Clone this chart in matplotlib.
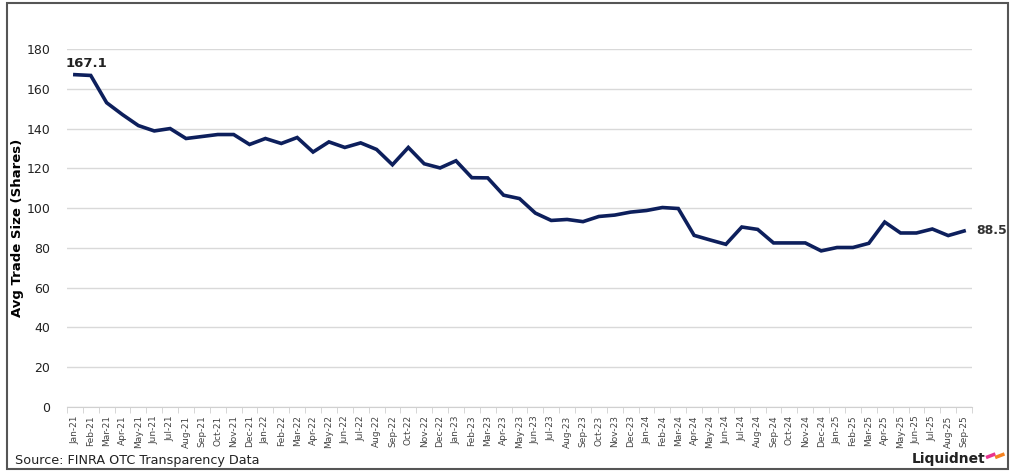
import matplotlib
matplotlib.use('Agg')
import matplotlib.pyplot as plt
from matplotlib.patches import Rectangle
from matplotlib.lines import Line2D

# monthly average trade size, Jan-21 .. Sep-25
months = ['Jan', 'Feb', 'Mar', 'Apr', 'May', 'Jun', 'Jul', 'Aug', 'Sep', 'Oct', 'Nov', 'Dec']
labels = [m + '-' + str(y) for y in range(21, 26) for m in months][:57]

avg_size = [167.1, 166.7, 153.0, 147.0, 141.5, 138.8, 140.0, 135.0, 136.0, 137.0, 137.0, 132.0,
            135.0, 132.5, 135.5, 128.2, 133.3, 130.5, 132.8, 129.5, 121.8, 130.5, 122.3, 120.2,
            123.8, 115.3, 115.2, 106.5, 104.8, 97.5, 93.8, 94.3, 93.2, 95.8, 96.5, 98.0,
            98.8, 100.3, 99.8, 86.3, 84.0, 81.8, 90.5, 89.3, 82.5, 82.5, 82.5, 78.5,
            80.2, 80.2, 82.3, 93.0, 87.5, 87.5, 89.5, 86.2, 88.5]

navy = '#0d1f5c'

fig = plt.figure(figsize=(10.14, 4.73), dpi=100)
ax = fig.add_axes([0.066, 0.1395, 0.8926, 0.7569])

x = list(range(len(avg_size)))
ax.plot(x, avg_size, color=navy, lw=2.6, solid_joinstyle='miter')

ax.set_xlim(-0.5, len(avg_size) - 0.5)
ax.set_ylim(0, 180)
ax.set_yticks(range(0, 181, 20))
ax.tick_params(axis='y', length=0, labelsize=9, labelcolor='#222222', pad=12)
ax.grid(axis='y', color='#d9d9d9', lw=1)
ax.set_axisbelow(True)

ax.set_xticks(x)
ax.set_xticklabels(labels, rotation=90, fontsize=6.5, color='#444444')
ax.set_xticks([i - 0.5 for i in range(len(avg_size) + 1)], minor=True)
ax.tick_params(axis='x', which='major', length=0, pad=6)
ax.tick_params(axis='x', which='minor', length=4, color='#d0d0d0')

for s in ['top', 'right', 'left']:
    ax.spines[s].set_visible(False)
ax.spines['bottom'].set_color('#d0d0d0')

ax.set_ylabel('Avg Trade Size (Shares)', fontsize=9.5, fontweight='bold', labelpad=0)
ax.yaxis.set_label_coords(-0.047, 0.5)

# end labels
ax.annotate(f'{avg_size[0]:.1f}', (0, avg_size[0]), xytext=(-7, 3), textcoords='offset points',
            fontsize=9.5, fontweight='bold', color='#222222', ha='left', va='bottom')
ax.annotate(f'{avg_size[-1]:.1f}', (len(avg_size) - 1, avg_size[-1]), xytext=(9, 0),
            textcoords='offset points', fontsize=9, fontweight='semibold', color='#333333',
            ha='left', va='center')

fig.text(0.015, 0.02, 'Source: FINRA OTC Transparency Data', fontsize=9.2, color='#222222')
fig.text(0.972, 0.022, 'Liquidnet', fontsize=10, fontweight='bold', color='#222222', ha='right')
fig.add_artist(Line2D([0.974, 0.980], [0.034, 0.039], color='#e8338f', lw=2.5))
fig.add_artist(Line2D([0.983, 0.989], [0.034, 0.039], color='#f5821f', lw=2.5))

# outer frame
fig.add_artist(Rectangle((0.007, 0.008), 0.987, 0.985, transform=fig.transFigure,
                         fill=False, edgecolor='#555555', lw=1.5))

fig.savefig('out.png', dpi=100)
